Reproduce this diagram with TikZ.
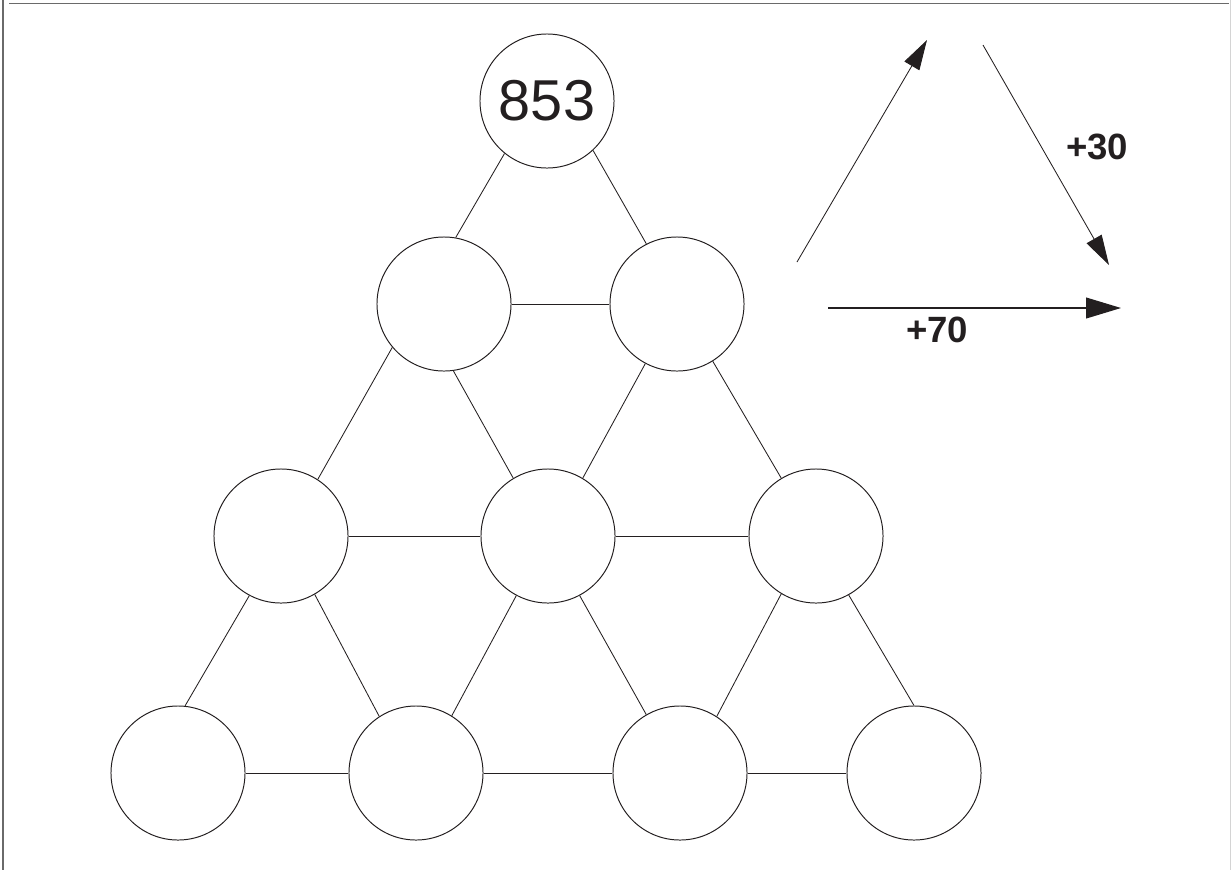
\documentclass[tikz,border=0pt]{standalone}
\usepackage{fontspec}
\setmainfont{Liberation Sans}
\usetikzlibrary{arrows.meta}
\definecolor{inkline}{HTML}{231F20}
\definecolor{inkframe}{HTML}{6A6A6A}
\definecolor{inkedge}{HTML}{D4D4D4}
\newcommand{\numcell}[4]{%
  \node[draw=inkline, line width=0.7pt, circle, minimum size=3.35cm,
        inner sep=0pt, text=inkline] (#1) at (#2,#3) {#4};}

\begin{document}
\begin{tikzpicture}[x=0.025cm, y=-0.025cm]
      \useasboundingbox (0,0) rectangle (1231,870);
      % frame
      \draw[inkframe, line width=1.1pt] (3,0) -- (3,870);
      \draw[inkframe, line width=1.1pt] (9,3.5) -- (1229,3.5);
      \draw[inkedge, line width=1.1pt] (1230.3,0) -- (1230.3,870);
      % cells
      \numcell{c0}{547}{101}{\fontsize{41}{48}\selectfont 853}
      \numcell{b1}{444}{304}{}
      \numcell{b2}{677}{304}{}
      \numcell{m1}{281}{536}{}
      \numcell{m2}{548}{536}{}
      \numcell{m3}{816}{536}{}
      \numcell{r1}{178}{773}{}
      \numcell{r2}{416}{773}{}
      \numcell{r3}{680}{773}{}
      \numcell{r4}{914}{773}{}
      % links (slanted ones follow the 60 degree grid)
      \draw[inkline, line width=0.6pt] (c0.231) -- (b1.80);
      \draw[inkline, line width=0.6pt] (c0.313) -- (b2.117);
      \draw[inkline, line width=0.6pt] (b1) -- (b2);
      \draw[inkline, line width=0.6pt] (b1.220) -- (m1.57);
      \draw[inkline, line width=0.6pt] (b1.278) -- (m2.121);
      \draw[inkline, line width=0.6pt] (b2.242) -- (m2.59);
      \draw[inkline, line width=0.6pt] (b2.302) -- (m3.121);
      \draw[inkline, line width=0.6pt] (m1) -- (m2);
      \draw[inkline, line width=0.6pt] (m2) -- (m3);
      \draw[inkline, line width=0.6pt] (m1.242) -- (r1.84);
      \draw[inkline, line width=0.6pt] (m1.300) -- (r2.123);
      \draw[inkline, line width=0.6pt] (m2.242) -- (r2.58);
      \draw[inkline, line width=0.6pt] (m2.298) -- (r3.120);
      \draw[inkline, line width=0.6pt] (m3.239) -- (r3.57);
      \draw[inkline, line width=0.6pt] (m3.299) -- (r4.90);
      \draw[inkline, line width=0.6pt] (r1) -- (r2);
      \draw[inkline, line width=0.6pt] (r2) -- (r3);
      \draw[inkline, line width=0.6pt] (r3) -- (r4);
      % rule arrows
      \coordinate (upA) at (797,262);
      \coordinate (upB) at (927,40);
      \coordinate (dnA) at (983,45);
      \coordinate (dnB) at (1109,265);
      \coordinate (rtA) at (828,308);
      \coordinate (rtB) at (1121,308);
      \draw[-{Triangle[length=0.75cm, width=0.43cm]}, inkline, line width=0.6pt] (upA) -- (upB);
      \draw[-{Triangle[length=0.75cm, width=0.43cm]}, inkline, line width=0.6pt] (dnA) -- (dnB);
      \draw[-{Triangle[length=0.87cm, width=0.52cm]}, inkline, line width=0.8pt] (rtA) -- (rtB);
      \node[text=inkline, font=\fontsize{26}{30}\selectfont\bfseries] (lab30) at (1097,147) {+30};
      \node[text=inkline, font=\fontsize{26}{30}\selectfont\bfseries] (lab70) at (937,330) {+70};
    \end{tikzpicture}
\end{document}
